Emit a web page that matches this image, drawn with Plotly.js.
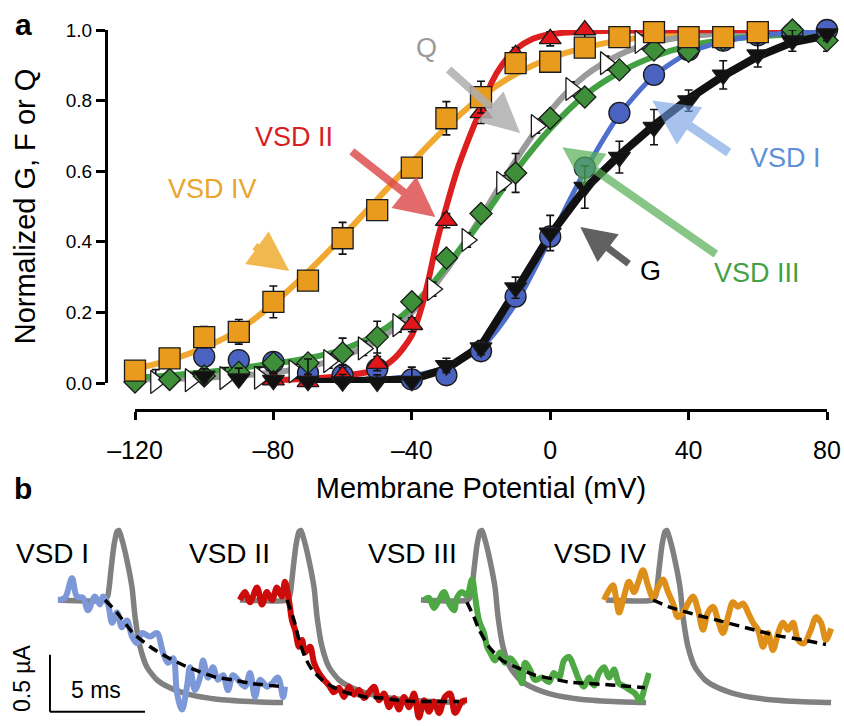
<!DOCTYPE html>
<html><head><meta charset="utf-8">
<script src="https://cdn.plot.ly/plotly-3.0.1.min.js"></script>
<style>html,body{margin:0;padding:0;background:#fff}</style>
</head><body><div id="chart" style="width:844px;height:726px"></div>
<script>
// ---------------- Panel a data ----------------
const xTickVals = [-120,-80,-40,0,40,80];
const xTickText = ['\u2013120','\u201380','\u201340','0','40','80'];
const yTickVals = [0,0.2,0.4,0.6,0.8,1.0];
const yTickText = ['0.0','0.2','0.4','0.6','0.8','1.0'];

const vsd4Volt = [-120,-110,-100,-90,-80,-70,-60,-50,-40,-30,-20,-10,0,10,20,30,40,50,60];
const vsd4F    = [0.035,0.07,0.13,0.145,0.23,0.29,0.41,0.49,0.61,0.75,0.81,0.906,0.91,0.95,0.98,0.994,0.98,0.98,0.994];
const vsd4Err  = [0.02,0.02,0.03,0.035,0.045,0.02,0.045,0.02,0.02,0.047,0.045,0.02,0.02,0.02,0.02,0.02,0.02,0.02,0.02];

const vsd2Volt = [-80,-70,-60,-50,-40,-30,-20,-10,0,10,20,30,40,50];
const vsd2F    = [0.008,0.003,0.022,0.055,0.165,0.46,0.765,0.93,0.975,1.0,1.02,1.02,1.01,1.01];
const vsd2Err  = [0.02,0.065,0.03,0.02,0.02,0.02,0.03,0.02,0.02,0.03,0.02,0.03,0.02,0.03];

const qVolt    = [-114,-104,-94,-84,-74,-64,-54,-44,-34,-24,-14,-4,6,16,26];
const qCharge  = [0.003,0.008,0.014,0.015,0.033,0.062,0.098,0.164,0.266,0.405,0.567,0.728,0.833,0.906,0.966];
const qErr     = [0.035,0.02,0.03,0.03,0.02,0.02,0.02,0.02,0.02,0.02,0.02,0.02,0.02,0.02,0.02];

const vsd3Volt = [-120,-110,-100,-90,-80,-70,-60,-50,-40,-30,-20,-10,0,10,20,30,40,50,60,70,80];
const vsd3F    = [0.003,0.01,0.02,0.03,0.057,0.057,0.085,0.13,0.23,0.354,0.48,0.595,0.75,0.81,0.887,0.943,0.94,0.972,0.99,1.0,0.97];
const vsd3Err  = [0.02,0.02,0.02,0.02,0.02,0.02,0.042,0.045,0.02,0.02,0.02,0.055,0.02,0.02,0.02,0.02,0.02,0.02,0.02,0.02,0.03];

const vsd1Volt = [-100,-90,-80,-70,-60,-50,-40,-30,-20,-10,0,10,20,30,40,50,60,70,80];
const vsd1F    = [0.075,0.065,0.06,0.028,0.022,0.04,0.01,0.022,0.09,0.245,0.415,0.61,0.765,0.873,0.943,0.97,0.985,0.99,1.0];
const vsd1Err  = [0.02,0.02,0.02,0.02,0.042,0.02,0.02,0.02,0.02,0.02,0.02,0.02,0.02,0.02,0.02,0.02,0.02,0.02,0.02];

const gVolt    = [-100,-90,-80,-70,-60,-50,-40,-30,-20,-10,0,10,20,30,40,50,60,70,80];
const gCond    = [0.02,0.012,0.008,0.005,0.004,0.003,0.005,0.05,0.1,0.27,0.425,0.555,0.64,0.725,0.8,0.873,0.93,0.97,0.99];
const gErr     = [0.02,0.03,0.02,0.02,0.02,0.02,0.04,0.02,0.02,0.03,0.05,0.06,0.045,0.05,0.03,0.04,0.035,0.03,0.02];

// fitted curves
const vsd4FitV = [-120,-110,-100,-90,-80,-70,-60,-50,-40,-30,-20,-10,0,10,20,30,40,60,80];
const vsd4FitF = [0.04,0.065,0.1,0.15,0.225,0.315,0.415,0.52,0.625,0.725,0.81,0.875,0.92,0.95,0.97,0.982,0.989,0.995,0.998];
const vsd2FitV = [-80,-70,-60,-50,-45,-40,-37,-35,-33,-30,-27,-25,-22,-20,-17,-14,-10,-5,0,10,20,40,60,80];
const vsd2FitF = [0.008,0.012,0.02,0.038,0.07,0.135,0.22,0.3,0.39,0.5,0.6,0.655,0.73,0.775,0.85,0.9,0.945,0.975,0.988,0.996,0.998,0.999,1.0,1.0];
const qFitV    = [-120,-100,-80,-70,-60,-50,-40,-30,-20,-10,0,10,20,30,40,50,60,80];
const qFitF    = [0.01,0.015,0.03,0.045,0.075,0.12,0.2,0.32,0.47,0.63,0.77,0.87,0.93,0.965,0.982,0.99,0.995,0.998];
const vsd3FitV = [-120,-100,-80,-70,-60,-50,-40,-30,-20,-10,0,10,20,30,40,50,60,70,80];
const vsd3FitF = [0.015,0.03,0.055,0.07,0.095,0.14,0.215,0.33,0.46,0.6,0.72,0.815,0.88,0.925,0.955,0.972,0.982,0.988,0.992];
const vsd1FitV = [-70,-60,-50,-40,-30,-20,-10,0,10,20,30,40,50,60,70,80];
const vsd1FitF = [0.003,0.005,0.01,0.02,0.045,0.1,0.225,0.41,0.6,0.76,0.87,0.935,0.967,0.984,0.992,0.996];
const gFitV    = [-70,-60,-50,-40,-30,-20,-10,0,10,20,30,40,50,60,70,80];
const gFitF    = [0.002,0.003,0.005,0.01,0.04,0.105,0.26,0.42,0.55,0.645,0.73,0.805,0.87,0.925,0.965,0.985];

// ---------------- Panel b data (time in ms from pulse, current in µA) ----------------
const gatingT = [-2.53,-0.05,0.1,0.26,0.42,0.58,0.68,0.84,1.1,1.37,1.53,1.79,2.16,2.68,3.37,4.42,5.84,7.58,9.32];
const gatingI = [0,0,0.04,0.26,0.48,0.6,0.61,0.53,0.35,0.11,-0.15,-0.41,-0.59,-0.70,-0.77,-0.83,-0.87,-0.89,-0.90];

const fl1T = [-2.53,-2.16,-1.79,-1.53,-1.21,-0.95,-0.58,-0.32,-0.16,0.11,0.32,0.58,0.84,1.1,1.37,1.63,1.89,2.32,2.68,3.0,3.26,3.53,3.74,4.0,4.26,4.42,4.68,4.95,5.11,5.37,5.63,5.89,6.16,6.42,6.68,6.95,7.32,7.58,7.84,8.11,8.47,8.74,9.05,9.32,9.42];
const fl1I = [0,0.02,0.19,0.03,0.02,-0.09,0.03,-0.04,0.03,-0.04,-0.2,-0.11,-0.24,-0.18,-0.32,-0.38,-0.29,-0.32,-0.29,-0.46,-0.55,-0.51,-0.82,-0.96,-0.76,-0.59,-0.79,-0.68,-0.53,-0.68,-0.59,-0.7,-0.66,-0.79,-0.66,-0.7,-0.76,-0.64,-0.85,-0.7,-0.76,-0.73,-0.68,-0.85,-0.76];
const fit1T = [-0.05,0.58,1.42,2.32,3.21,4.05,4.95,5.84,6.68,7.58,9.26];
const fit1I = [0,-0.11,-0.29,-0.41,-0.5,-0.57,-0.63,-0.68,-0.7,-0.73,-0.76];

const fl2T = [-2.53,-2.26,-2.0,-1.63,-1.37,-1.11,-0.84,-0.58,-0.32,-0.16,0.05,0.21,0.37,0.58,0.74,0.89,1.16,1.37,1.63,1.89,2.16,2.42,2.68,2.95,3.21,3.47,3.74,4.0,4.26,4.53,4.79,5.05,5.32,5.58,5.84,6.11,6.37,6.63,6.89,7.16,7.42,7.68,7.95,8.26,8.53,8.79,9.16,9.42];
const fl2I = [0,0.07,-0.02,0.11,-0.04,0.07,0,0.11,0.03,0.16,0,-0.18,-0.26,-0.41,-0.35,-0.46,-0.41,-0.55,-0.64,-0.7,-0.75,-0.81,-0.77,-0.85,-0.76,-0.83,-0.79,-0.86,-0.81,-0.76,-0.88,-0.82,-0.94,-0.86,-0.96,-0.85,-0.94,-0.82,-1.03,-0.88,-0.98,-0.89,-0.99,-0.85,-0.82,-0.99,-0.89,-0.88];
const fit2T = [-0.05,0.32,0.58,0.89,1.26,1.79,2.32,3.21,4.05,4.95,5.84,6.68,7.58,9.0];
const fit2I = [0,-0.18,-0.35,-0.5,-0.61,-0.7,-0.76,-0.82,-0.85,-0.86,-0.88,-0.89,-0.89,-0.89];

const fl3T = [-2.37,-2.11,-1.84,-1.58,-1.32,-1.05,-0.79,-0.63,-0.37,-0.11,0.16,0.32,0.53,0.79,0.95,1.11,1.37,1.63,1.89,2.16,2.53,2.79,2.95,3.21,3.47,3.84,4.21,4.47,4.74,5.0,5.26,5.53,5.79,6.05,6.32,6.58,6.84,7.11,7.37,7.63,7.89,8.21,8.47,8.74,9.0,9.26,9.47];
const fl3I = [0,0.02,-0.07,0,0.07,-0.03,-0.09,0.02,0.07,0.04,0.18,0.03,-0.18,-0.29,-0.41,-0.46,-0.53,-0.46,-0.55,-0.51,-0.59,-0.73,-0.55,-0.61,-0.7,-0.68,-0.72,-0.64,-0.68,-0.53,-0.5,-0.59,-0.7,-0.76,-0.68,-0.75,-0.64,-0.59,-0.68,-0.61,-0.73,-0.76,-0.79,-0.82,-0.88,-0.76,-0.64];
const fit3T = [-0.11,0.26,0.53,1.05,1.74,2.63,3.47,4.37,5.26,6.11,7.0,7.89,9.26];
const fit3I = [-0.02,-0.15,-0.26,-0.41,-0.53,-0.6,-0.66,-0.69,-0.72,-0.73,-0.74,-0.75,-0.77];

const fl4T = [-2.63,-2.42,-2.16,-2.0,-1.84,-1.58,-1.32,-1.05,-0.84,-0.58,-0.32,-0.05,0.21,0.47,0.74,1.0,1.26,1.53,1.79,2.05,2.32,2.58,2.84,3.11,3.37,3.63,3.89,4.16,4.42,4.68,4.95,5.21,5.47,5.74,6.0,6.26,6.53,6.79,7.05,7.32,7.58,7.89,8.26,8.53,8.79,9.05,9.32];
const fl4I = [0,0.07,0.13,0.02,-0.11,0.03,0.16,0.07,0.15,0.26,0.13,0.02,0.11,0.18,0.07,-0.03,-0.15,-0.11,-0.03,0.03,-0.09,-0.26,-0.11,-0.06,-0.18,-0.29,-0.15,-0.02,-0.06,-0.03,-0.11,-0.2,-0.26,-0.41,-0.29,-0.44,-0.29,-0.2,-0.26,-0.2,-0.35,-0.38,-0.26,-0.15,-0.2,-0.35,-0.25];
const fit4T = [-0.05,0.79,2.21,3.63,5.0,6.42,7.84,9.05];
const fit4I = [0,-0.06,-0.13,-0.19,-0.25,-0.31,-0.35,-0.39];

const scaleBarMs = 5;
const scaleBarUA = 0.5;

// ---------------- Styles ----------------
const FONT = 'Liberation Sans, Arial, Helvetica, sans-serif';
const C = {
  orange:'#E89B1C', orangeLine:'#F0A82E',
  red:'#E0161B', redLine:'#DD1F1F',
  gray:'#9B9B9B', green:'#3F8F3A', greenLine:'#43A043',
  blue:'#4A63C0', blueLine:'#4E6FCC', black:'#111111'
};

const traces = [];
function curve(x, y, color, width, shape) {
  traces.push({x, y, type:'scatter', mode:'lines', cliponaxis:false,
    line:{color, width, shape: shape || 'spline', smoothing:0.8}, hoverinfo:'skip', xaxis:'x', yaxis:'y'});
}
function pts(x, y, err, symbol, fill, size) {
  traces.push({x, y, type:'scatter', mode:'markers', cliponaxis:false,
    marker:{symbol, color:fill, size, line:{color:'#1a1a1a', width:1.3}},
    error_y:{type:'data', array:err, visible:true, color:'#111', thickness:1.6, width:4},
    xaxis:'x', yaxis:'y'});
}

curve(vsd4FitV, vsd4FitF, C.orangeLine, 6);
curve(qFitV, qFitF, C.gray, 6);
curve(vsd3FitV, vsd3FitF, C.greenLine, 6);
curve(vsd2FitV, vsd2FitF, C.redLine, 6);
curve(vsd1FitV, vsd1FitF, C.blueLine, 5);
curve(gFitV, gFitF, C.black, 8, 'linear');

pts(qVolt, qCharge, qErr, 'triangle-right', '#ffffff', 20);
pts(vsd1Volt, vsd1F, vsd1Err, 'circle', C.blue, 21);
pts(vsd3Volt, vsd3F, vsd3Err, 'diamond', C.green, 17);
pts(vsd2Volt, vsd2F, vsd2Err, 'triangle-up', C.red, 19);
pts(gVolt, gCond, gErr, 'triangle-down', C.black, 19);
pts(vsd4Volt, vsd4F, vsd4Err, 'square', C.orange, 21);

// panel b
const groups = [
  {t:fl1T, i:fl1I, ft:fit1T, fi:fit1I, color:'#7C98D8', ax:'x2'},
  {t:fl2T, i:fl2I, ft:fit2T, fi:fit2I, color:'#CC0B0B', ax:'x3'},
  {t:fl3T, i:fl3I, ft:fit3T, fi:fit3I, color:'#4EA843', ax:'x4'},
  {t:fl4T, i:fl4I, ft:fit4T, fi:fit4I, color:'#DE8F1A', ax:'x5'}
];
groups.forEach(g => {
  traces.push({x:gatingT, y:gatingI, type:'scatter', mode:'lines', xaxis:g.ax, yaxis:'y2',
    line:{color:'#808080', width:5.5, shape:'spline', smoothing:0.6}, hoverinfo:'skip'});
  traces.push({x:g.t, y:g.i, type:'scatter', mode:'lines', xaxis:g.ax, yaxis:'y2',
    line:{color:g.color, width:6, shape:'spline', smoothing:1}, hoverinfo:'skip'});
  traces.push({x:g.ft, y:g.fi, type:'scatter', mode:'lines', xaxis:g.ax, yaxis:'y2',
    line:{color:'#000', width:3.5, dash:'10px,6px', shape:'spline', smoothing:0.6}, hoverinfo:'skip'});
});

const W = 844, H = 726;
const px = v => v / W, py = v => 1 - v / H;

const hidden = {visible:false, fixedrange:true};
const tRange = [-3, 9.6];
const onsets = [106, 288, 469, 654];
const dom = o => [px(o - 57), px(o + 182.4)];

const txt = (text, x, y, size, color, extra) => Object.assign({
  text, x:px(x), y:py(y), xref:'paper', yref:'paper', showarrow:false,
  xanchor:'center', yanchor:'middle', font:{family:FONT, size, color}}, extra || {});
const arrow = (hx, hy, ax, ay, color, width) => ({
  text:'', x:hx, y:hy, xref:'x', yref:'y', ax, ay, showarrow:true,
  arrowcolor:color, arrowwidth:width, arrowhead:2, arrowsize:1, standoff:0});

const annotations = [
  txt('<b>a</b>', 23, 24, 30, '#000'),
  txt('<b>b</b>', 23, 488, 30, '#000'),
  txt('VSD IV', 212, 189, 27, '#E9A530'),
  txt('VSD II', 294, 137, 27, '#D81E24'),
  txt('Q', 426, 48, 27, '#9A9A9A'),
  txt('VSD I', 785, 158, 27, '#5E8FD8'),
  txt('G', 650, 271, 27, '#000'),
  txt('VSD III', 757, 273, 27, '#45A045'),
  txt('VSD I', 52, 553, 28, '#000'),
  txt('VSD II', 230, 553, 28, '#000'),
  txt('VSD III', 412, 553, 28, '#000'),
  txt('VSD IV', 600, 553, 28, '#000'),
  txt('5 ms', 96, 690, 23, '#000'),
  txt('0.5 \u00b5A', 22, 678, 23, '#000', {textangle:-90}),
  arrow(-75.4, 0.317, -36, -26, 'rgba(240,172,50,0.85)', 8),
  arrow(-33.2, 0.47, -85, -67, 'rgba(221,70,70,0.8)', 8),
  arrow(-8.7, 0.708, -73, -65, 'rgba(175,175,175,0.85)', 8),
  arrow(29.5, 0.80, 78, 53, 'rgba(110,155,225,0.6)', 9),
  arrow(8.7, 0.442, 50, 38, 'rgba(80,80,80,0.9)', 7),
  arrow(3.5, 0.668, 155, 108, 'rgba(85,175,85,0.7)', 8)
];

const shapes = [
  {type:'line', xref:'x2', yref:'y2', x0:-2.95, y0:-0.98, x1:-2.95 + scaleBarMs, y1:-0.98, line:{color:'#000', width:2}},
  {type:'line', xref:'x2', yref:'y2', x0:-2.95, y0:-0.98, x1:-2.95, y1:-0.98 + scaleBarUA, line:{color:'#000', width:2}}
];

const layout = {
  width:W, height:H, margin:{l:0,r:0,t:0,b:0,pad:0},
  paper_bgcolor:'#fff', plot_bgcolor:'rgba(0,0,0,0)', showlegend:false,
  font:{family:FONT, color:'#000'},
  xaxis:{domain:[px(135), px(827)], range:[-120,80], anchor:'free', position:1 - 410/H,
    showline:true, linewidth:3, linecolor:'#000', ticks:'outside', ticklen:8, tickwidth:3, tickcolor:'#000',
    ticklabelstandoff:9,
    tickvals:xTickVals, ticktext:xTickText, tickfont:{family:FONT, size:25}, showgrid:false, zeroline:false,
    title:{text:'Membrane Potential (mV)', font:{family:FONT, size:29}, standoff:14}, fixedrange:true},
  yaxis:{domain:[1 - 383/H, 1 - 30/H], range:[0,1], anchor:'free', position:px(106),
    showline:true, linewidth:3, linecolor:'#000', ticks:'outside', ticklen:9, tickwidth:3, tickcolor:'#000',
    tickvals:yTickVals, ticktext:yTickText, tickfont:{family:FONT, size:19}, showgrid:false, zeroline:false,
    title:{text:'Normalized G, F or Q', font:{family:FONT, size:29}, standoff:20}, fixedrange:true},
  xaxis2:Object.assign({domain:dom(onsets[0]), range:tRange, anchor:'y2'}, hidden),
  xaxis3:Object.assign({domain:dom(onsets[1]), range:tRange, anchor:'y2'}, hidden),
  xaxis4:Object.assign({domain:dom(onsets[2]), range:tRange, anchor:'y2'}, hidden),
  xaxis5:Object.assign({domain:dom(onsets[3]), range:tRange, anchor:'y2'}, hidden),
  yaxis2:Object.assign({domain:[0, 1 - 505/H], range:[-1.105, 0.833], anchor:'x2'}, hidden),
  annotations, shapes
};

Plotly.newPlot('chart', traces, layout, {displayModeBar:false, staticPlot:true});
</script></body></html>
